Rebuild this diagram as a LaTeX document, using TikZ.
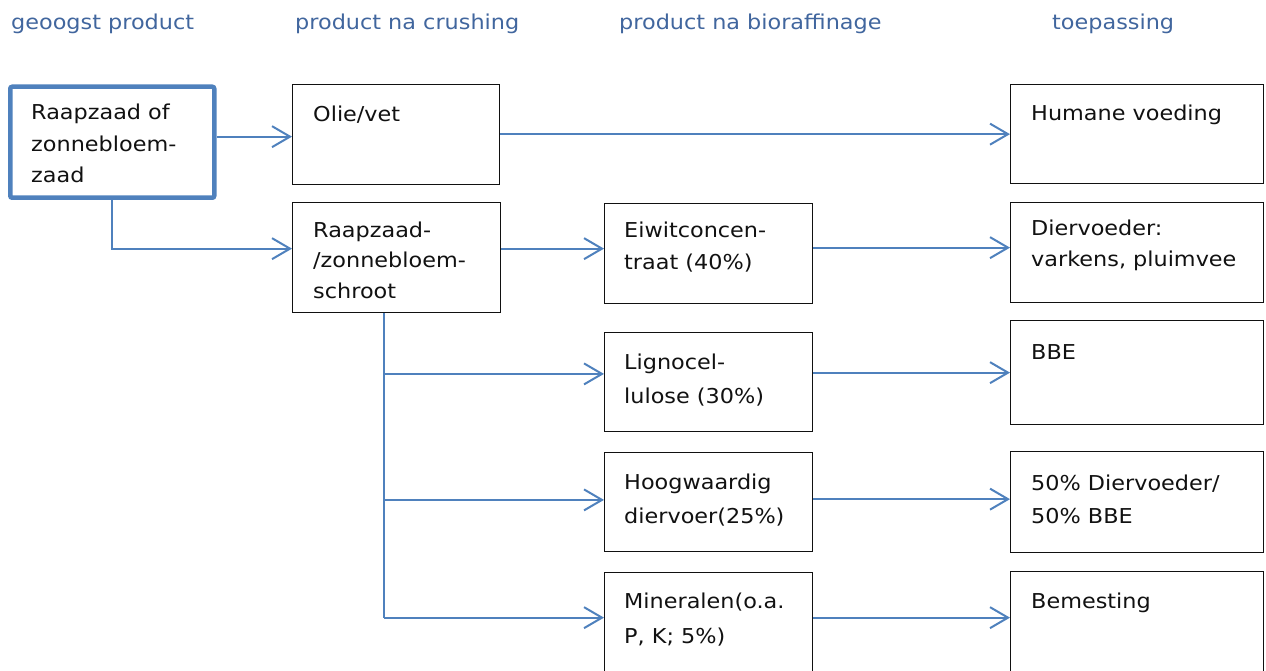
\documentclass[tikz,border=0pt]{standalone}
\usepackage{fontspec}
\setmainfont{DejaVu Sans}[FakeStretch=1.09]
\usetikzlibrary{arrows.meta,calc}
\definecolor{flowblue}{HTML}{4F81BD}
\definecolor{headblue}{HTML}{41669E}
\definecolor{inkblack}{HTML}{111111}
\tikzset{
  box/.style={draw=inkblack, line width=1.3pt, inner sep=0pt, anchor=north west},
  srcbox/.style={draw=flowblue, line width=4.5pt, rounded corners=2pt, inner sep=0pt, anchor=north west},
  txt/.style={inner sep=0pt, anchor=base west, text=inkblack, font=\fontsize{20.5}{#1}\selectfont},
  txt/.default=32,
  hdr/.style={inner sep=0pt, anchor=base west, text=headblue, font=\fontsize{20.5}{32}\selectfont},
  arr/.style={draw=flowblue, line width=2pt, -{Straight Barb[length=18pt, width=21pt, line width=2pt]}},
  flow/.style={draw=flowblue, line width=2pt}
}
\newcommand{\stack}[1]{\begin{tabular}[t]{@{}l@{}}#1\end{tabular}}
\begin{document}
\begin{tikzpicture}[x=1pt, y=-1pt]
\useasboundingbox (0,0) rectangle (1266,671);
\clip (0,0) rectangle (1266,671);

% column headings
\node[hdr] (h1) at (11,30) {geoogst product};
\node[hdr] (h2) at (295,30) {product na crushing};
\node[hdr] (h3) at (619,30) {product na bioraffinage};
\node[hdr] (h4) at (1052,30) {toepassing};

% harvested product
\node[srcbox, minimum width=204pt, minimum height=111pt] (A) at (8,84.5) {};
\node[txt=31.5] (At) at (31,120) {\stack{Raapzaad of\\zonnebloem-\\zaad}};

% products after crushing
\node[box, minimum width=207pt, minimum height=100pt] (olie) at (292,84) {};
\node[txt] (oliet) at (313,122) {\stack{Olie/vet}};
\node[box, minimum width=208pt, minimum height=110pt] (schroot) at (292,202) {};
\node[txt=30.5] (schroott) at (313,237) {\stack{Raapzaad-\\/zonnebloem-\\schroot}};

% products after biorefining
\node[box, minimum width=208pt, minimum height=100pt] (eiwit) at (604,203) {};
\node[txt=32] (eiwitt) at (624,237) {\stack{Eiwitconcen-\\traat (40\%)}};
\node[box, minimum width=208pt, minimum height=99.5pt] (ligno) at (604,331.5) {};
\node[txt=34] (lignot) at (624,369) {\stack{Lignocel-\\lulose (30\%)}};
\node[box, minimum width=208pt, minimum height=99.5pt] (hoog) at (604,451.5) {};
\node[txt=34] (hoogt) at (624,489) {\stack{Hoogwaardig\\diervoer(25\%)}};
\node[box, minimum width=208pt, minimum height=100pt] (mine) at (604,571.5) {};
\node[txt=35] (minet) at (624,608) {\stack{Mineralen(o.a.\\P, K;\ 5\%)}};

% applications
\node[box, minimum width=253pt, minimum height=99pt] (hum) at (1010,84) {};
\node[txt] (humt) at (1031,121) {\stack{Humane voeding}};
\node[box, minimum width=253pt, minimum height=100pt] (dier) at (1010,202) {};
\node[txt=32] (diert) at (1031,235) {\stack{Diervoeder:\\varkens, pluimvee}};
\node[box, minimum width=253pt, minimum height=104pt] (bbe) at (1010,320) {};
\node[txt] (bbet) at (1031,359) {\stack{BBE}};
\node[box, minimum width=253pt, minimum height=101pt] (mix) at (1010,451) {};
\node[txt=33] (mixt) at (1031,490) {\stack{50\% Diervoeder/\\50\% BBE}};
\node[box, minimum width=253pt, minimum height=100pt] (bem) at (1010,571) {};
\node[txt] (bemt) at (1031,608) {\stack{Bemesting}};

% connectors
\coordinate (oIn) at ([yshift=-2pt]olie.west);
\draw[arr] (A.east |- oIn) -- (oIn);
\coordinate (sIn) at ([yshift=9pt]schroot.west);
\draw[arr] (A.south) |- (sIn);
\draw[arr] (olie.east |- hum.west) -- (hum.west);

\coordinate (eIn) at ([yshift=5pt]eiwit.west);
\draw[arr] (schroot.east |- eIn) -- (eIn);
\coordinate (dIn) at ([yshift=5pt]dier.west);
\draw[arr] (eiwit.east |- dIn) -- (dIn);

\coordinate (trunk) at ([xshift=-13pt]schroot.south);
\coordinate (lIn) at ([yshift=8pt]ligno.west);
\coordinate (hIn) at ([yshift=2pt]hoog.west);
\coordinate (mIn) at ([yshift=4.5pt]mine.west);
\draw[flow] (trunk) -- (trunk |- mIn);
\draw[arr] (trunk |- lIn) -- (lIn);
\draw[arr] (trunk |- hIn) -- (hIn);
\draw[arr] (trunk |- mIn) -- (mIn);

\draw[arr] (ligno.east |- bbe.west) -- (bbe.west);
\coordinate (xIn) at ([yshift=3pt]mix.west);
\draw[arr] (hoog.east |- xIn) -- (xIn);
\coordinate (bIn) at ([yshift=4pt]bem.west);
\draw[arr] (mine.east |- bIn) -- (bIn);
\end{tikzpicture}
\end{document}
